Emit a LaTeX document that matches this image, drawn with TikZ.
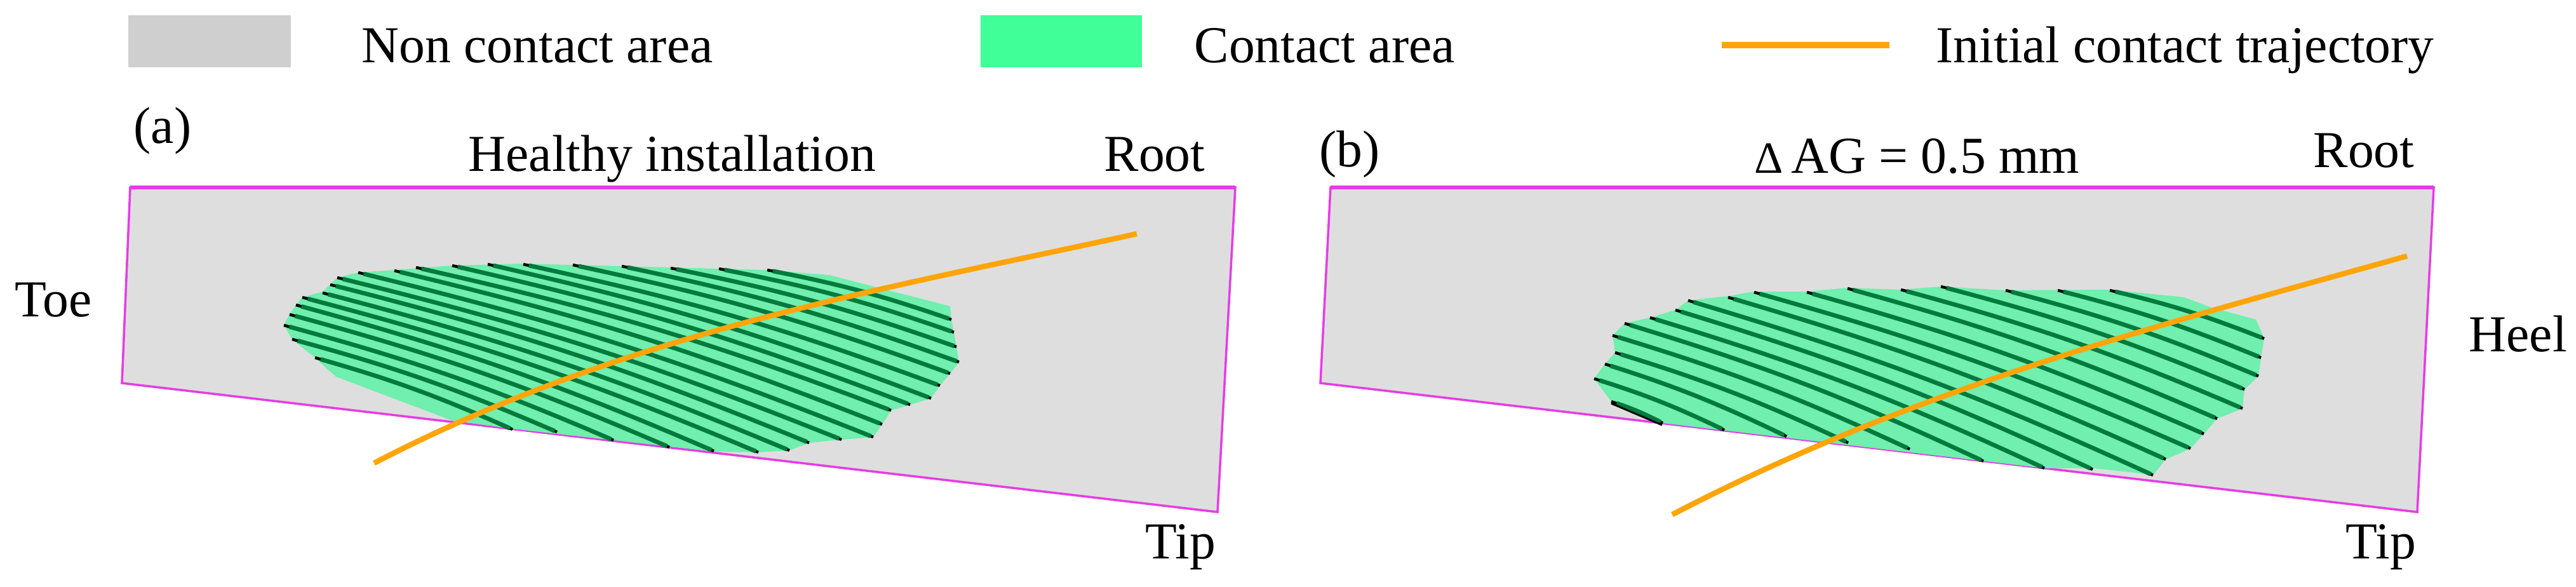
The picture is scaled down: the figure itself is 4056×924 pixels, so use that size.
\documentclass[tikz,border=0pt]{standalone}
\usepackage{fontspec}
\setmainfont{Liberation Serif}
\definecolor{panelgrey}{HTML}{DEDEDE}
\definecolor{legendgrey}{HTML}{CFCFCF}
\definecolor{patchgreen}{HTML}{70EFAE}
\definecolor{legendgreen}{HTML}{40FF99}
\definecolor{hatchgreen}{HTML}{007A3D}
\definecolor{framepink}{HTML}{E63CE6}
\definecolor{trajorange}{HTML}{FFA50A}
\tikzset{
  labeltext/.style={anchor=base west,inner sep=0pt,font=\fontsize{23.2}{28}\selectfont},
  panel/.style={draw=framepink,fill=panelgrey,line width=.035cm},
  paneltop/.style={draw=framepink,line width=.055cm},
  patch/.style={fill=patchgreen},
  hatchtip/.style={black,line width=.045cm,dash pattern=on .11cm off 100cm},
  hatchline/.style={hatchgreen,line width=.068cm,shorten <=.09cm,shorten >=.04cm},
  trajectory/.style={trajorange,line width=.085cm}
}
\begin{document}
\begin{tikzpicture}[x=.01cm,y=-.01cm]
      \useasboundingbox (0,0) rectangle (4056,924);

      % legend
      \fill[legendgrey] (202,24) rectangle (458,106);
      \fill[legendgreen] (1544,24) rectangle (1798,106);
      \draw[trajorange,line width=.09cm] (2711,71) -- (2975,71);

      % panel a
      \draw[panel] (205,295) -- (1945,295) -- (1917,806) -- (192,603) -- cycle;
      \draw[paneltop] (205,295) -- (1945,295);
      \fill[patch] (447,512) -- (456,495) -- (466,480) -- (476,468) -- (508,459) -- (520,448)
        -- (531,437) -- (564,429) -- (621,425) -- (712,418) -- (824,415) -- (979,419)
        -- (1208,425) -- (1306,433) -- (1383,453) -- (1496,482) -- (1498,503) -- (1502,523)
        -- (1506,546) -- (1510,570) -- (1496,588) -- (1480,607) -- (1466,627) -- (1433,637)
        -- (1403,646) -- (1389,668) -- (1375,688) -- (1325,692) -- (1274,697) -- (1243,709)
        -- (1194,712) -- (1126,711) -- (807,675) -- (712,662) -- (529,593) -- (496,563)
        -- (460,534) -- cycle;
      \foreach \xa/\ya/\xb/\yb in {496/563/807/676,460/534/877/680,447/512/966/693,
        456/495/1054/704,466/480/1124/710,476/468/1194/712,508/461/1243/709,520/448/1274/697,
        531/437/1325/692,564/429/1375/688,621/426/1389/668,655/421/1403/646,712/418/1433/637,
        768/416/1466/627,824/416/1480/607,902/417/1496/588,979/419/1510/570,1056/422/1506/546,
        1132/423/1502/523,1208/425/1498/503} {
        \draw[hatchtip] (\xa,\ya) to[bend left=4] (\xb,\yb);
        \draw[hatchtip] (\xb,\yb) to[bend right=4] (\xa,\ya);
        \draw[hatchline] (\xa,\ya) to[bend left=4] (\xb,\yb);
      }
      \draw[trajectory] (589,729) .. controls (989,521) and (1390,456) .. (1790,368);

      % panel b
      \draw[panel] (2095,295) -- (3832,295) -- (3806,806) -- (2079,603) -- cycle;
      \draw[paneltop] (2095,295) -- (3832,295);
      \fill[patch] (2510,596) -- (2527,573) -- (2543,555) -- (2539,528) -- (2558,509) -- (2598,500)
        -- (2638,488) -- (2658,473) -- (2721,466) -- (2762,459) -- (2845,459) -- (2909,453)
        -- (2993,456) -- (3056,451) -- (3158,457) -- (3322,456) -- (3439,468) -- (3479,483)
        -- (3552,503) -- (3565,532) -- (3560,563) -- (3556,592) -- (3534,613) -- (3531,643)
        -- (3491,659) -- (3470,683) -- (3449,706) -- (3422,718) -- (3410,723) -- (3390,748)
        -- (3353,743) -- (3295,737) -- (3219,737) -- (2618,666) -- (2537,632) -- cycle;
      \foreach \xa/\ya/\xb/\yb in {2537/632/2618/666,2510/596/2715/677,2527/573/2813/687,
        2543/555/2910/697,2539/528/3007/707,2558/509/3123/726,2598/500/3219/737,
        2638/488/3295/739,2658/473/3390/748,2721/468/3410/723,2762/460/3449/706,
        2845/460/3470/683,2909/454/3491/659,2993/456/3531/643,3056/451/3534/613,
        3158/457/3556/592,3240/457/3560/563,3322/457/3565/533} {
        \draw[hatchtip] (\xa,\ya) to[bend left=4] (\xb,\yb);
        \draw[hatchtip] (\xb,\yb) to[bend right=4] (\xa,\ya);
        \draw[hatchline] (\xa,\ya) to[bend left=4] (\xb,\yb);
      }
      \draw[black,line width=.03cm] (2537,635) -- (2617,669);
      \draw[trajectory] (2633,810) .. controls (3019,609) and (3404,511) .. (3790,403);

      % labels
      \begin{scope}[every node/.style={labeltext}]
        \node (noncontact) at (569,98)  {Non contact area};
        \node (contact)    at (1880,98) {Contact area};
        \node (initial)    at (3048,98) {Initial contact trajectory};
        \node (tagA)       at (210,225) {(a)};
        \node (healthy)    at (737,269) {Healthy installation};
        \node (rootA)      at (1738,269) {Root};
        \node (toe)        at (23,498)  {Toe};
        \node (tipA)       at (1803,879) {Tip};
        \node (tagB)       at (2077,262) {(b)};
        \node (deltaAG)    at (2762,272) {{\fontsize{20}{24}\selectfont Δ}\hspace{-.08cm} AG = 0.5 mm};
        \node (rootB)      at (3642,263) {Root};
        \node (heel)       at (3887,553) {Heel};
        \node (tipB)       at (3693,879) {Tip};
      \end{scope}

    \end{tikzpicture}
\end{document}
